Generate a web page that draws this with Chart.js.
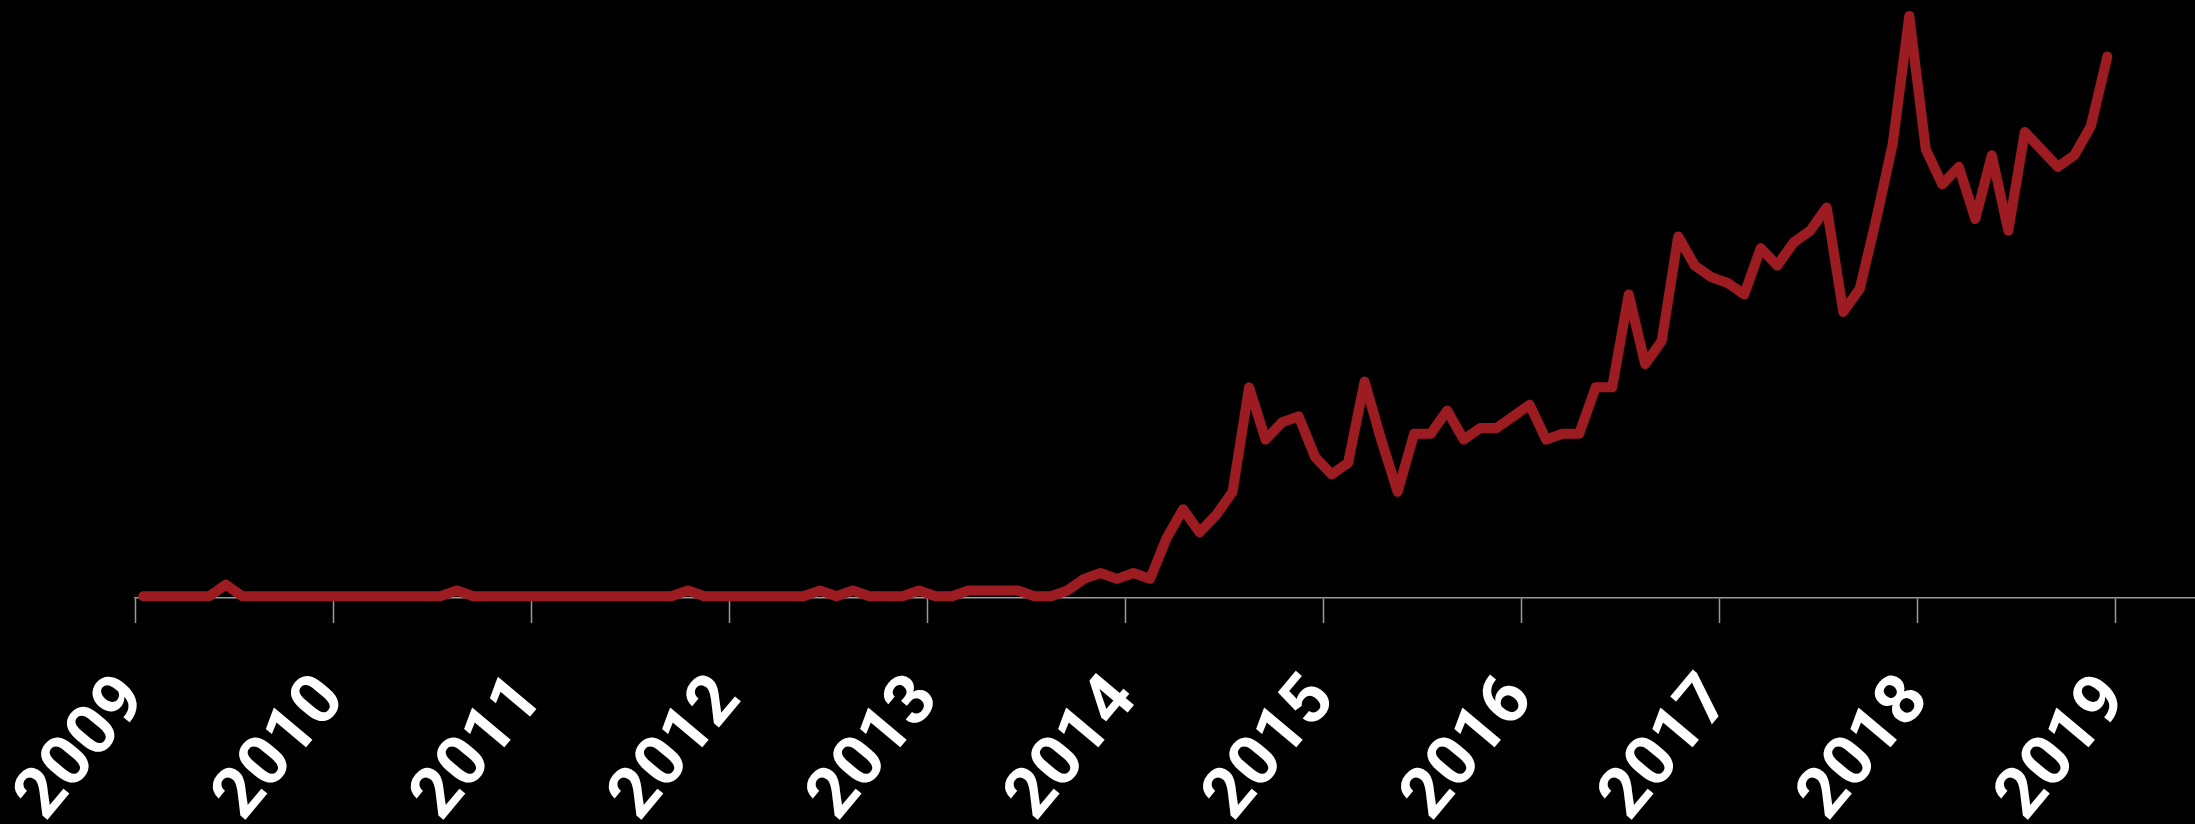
<!DOCTYPE html>
<html>
<head>
<meta charset="utf-8">
<script src="https://cdn.jsdelivr.net/npm/chart.js@4.4.0/dist/chart.umd.min.js"></script>
<style>
  html, body { margin: 0; padding: 0; background: #000; }
  #wrap { width: 2195px; height: 824px; position: relative; }
</style>
</head>
<body>
<div id="wrap"><canvas id="trend"></canvas></div>
<script>
// monthly interest, one array per year (Jan..Dec)
const years = [2009, 2010, 2011, 2012, 2013, 2014, 2015, 2016, 2017, 2018];
const tickYears = [2009, 2010, 2011, 2012, 2013, 2014, 2015, 2016, 2017, 2018, 2019];

const v2009 = [0, 0, 0, 0, 0, 2, 0, 0, 0, 0, 0, 0];
const v2010 = [0, 0, 0, 0, 0, 0, 0, 1, 0, 0, 0, 0];
const v2011 = [0, 0, 0, 0, 0, 0, 0, 0, 0, 1, 0, 0];
const v2012 = [0, 0, 0, 0, 0, 1, 0, 1, 0, 0, 0, 1];
const v2013 = [0, 0, 1, 1, 1, 1, 0, 0, 1, 3, 4, 3];
const v2014 = [4, 3, 10, 15, 11, 14, 18, 36, 27, 30, 31, 24];
const v2015 = [21, 23, 37, 27, 18, 28, 28, 32, 27, 29, 29, 31];
const v2016 = [33, 27, 28, 28, 36, 36, 52, 40, 44, 62, 57, 55];
const v2017 = [54, 52, 60, 57, 61, 63, 67, 49, 53, 65, 78, 100];
const v2018 = [77, 71, 74, 65, 76, 63, 80, 77, 74, 76, 81, 93];

const series = [v2009, v2010, v2011, v2012, v2013, v2014, v2015, v2016, v2017, v2018];

// each value sits in the middle of its month
const points = [];
series.forEach((vals, yi) => {
  vals.forEach((v, m) => {
    points.push({ x: years[yi] + (m + 0.5) / 12, y: v });
  });
});

const ctx = document.getElementById('trend');

new Chart(ctx, {
  type: 'line',
  data: {
    datasets: [{
      data: points,
      borderColor: '#9d1c22',
      borderWidth: 10,
      borderJoinStyle: 'round',
      borderCapStyle: 'round',
      pointRadius: 0,
      tension: 0,
      fill: false,
      clip: false,
    }],
  },
  options: {
    responsive: true,
    maintainAspectRatio: false,
    animation: false,
    devicePixelRatio: 1,
    layout: { padding: { top: 16, left: 0, right: 0, bottom: 0 } },
    plugins: {
      legend: { display: false },
      tooltip: { enabled: false },
    },
    scales: {
      x: {
        type: 'linear',
        position: 'bottom',
        min: 2009,
        max: 2019.401,
        afterBuildTicks: (scale) => {
          scale.ticks = tickYears.map(v => ({ value: v }));
        },
        afterFit: (scale) => {
          scale.height = 226;
          scale.paddingLeft = 135;
          scale.paddingRight = 0;
        },
        grid: {
          display: true,
          drawOnChartArea: false,
          drawTicks: true,
          tickLength: 25,
          tickColor: '#999',
          tickWidth: 1.5,
        },
        border: { display: true, color: '#999', width: 1.5 },
        ticks: {
          color: '#fff',
          font: { family: 'Roboto', size: 70, weight: 'bold' },
          minRotation: 50,
          maxRotation: 50,
          padding: 38,
          autoSkip: false,
          callback: (v) => String(v),
        },
      },
      y: {
        display: false,
        min: -0.3,
        max: 100,
      },
    },
  },
});
</script>
</body>
</html>
